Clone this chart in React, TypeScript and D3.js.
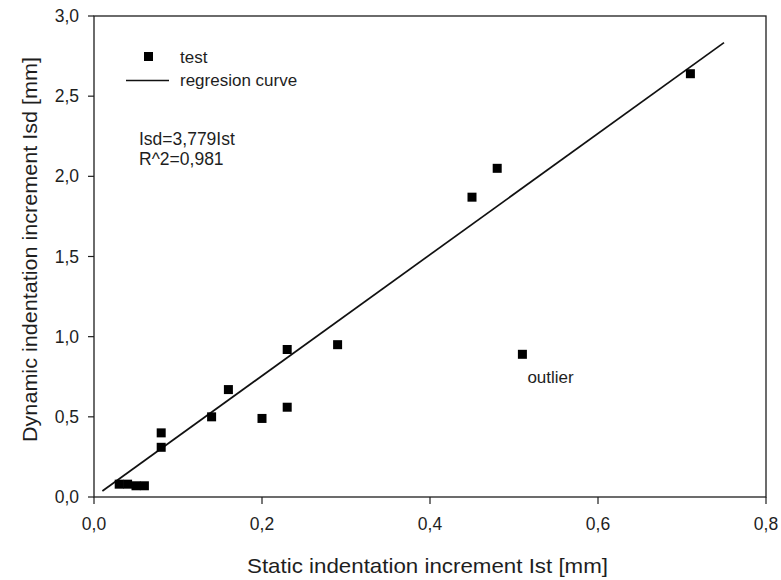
import React from "react";
import * as d3 from "d3";

// measured points (static vs dynamic indentation increment, mm)
const staticInc = [0.03, 0.04, 0.05, 0.06, 0.08, 0.08, 0.14, 0.16, 0.2, 0.23, 0.23, 0.29, 0.45, 0.48, 0.51, 0.71];
const dynamicInc = [0.08, 0.08, 0.07, 0.07, 0.31, 0.4, 0.5, 0.67, 0.49, 0.56, 0.92, 0.95, 1.87, 2.05, 0.89, 2.64];
const slope = 3.779;
const fitRange = [0.01, 0.75];
const xTicks = [0, 0.2, 0.4, 0.6, 0.8];
const yTicks = [0, 0.5, 1, 1.5, 2, 2.5, 3];
const outlier = [0.51, 0.89];

const W = 781;
const H = 580;
const margin = { top: 16, right: 15, bottom: 83, left: 94 };
const font = "'Liberation Sans', Arial, sans-serif";
const ink = "#1e1e1e";

const fmt = (v: number) => d3.format(".1f")(v).replace(".", ",");

export default function App() {
  const x = d3.scaleLinear().domain([0, 0.8]).range([margin.left, W - margin.right]);
  const y = d3.scaleLinear().domain([0, 3]).range([H - margin.bottom, margin.top]);
  const fit = d3.line<number>().x((d) => x(d)).y((d) => y(slope * d));
  const pts = staticInc.map((s, i) => [s, dynamicInc[i]]);
  const sq = 9;

  return (
    <svg width={W} height={H} style={{ position: "absolute", left: 0, top: 0, background: "#fff" }} fontFamily={font}>
      {/* frame */}
      <rect x={x(0)} y={y(3)} width={x(0.8) - x(0)} height={y(0) - y(3)} fill="none" stroke={ink} strokeWidth={1.3} />

      {xTicks.map((t) => (
        <g key={"x" + t}>
          <line x1={x(t)} x2={x(t)} y1={y(0)} y2={y(0) + 7} stroke={ink} strokeWidth={1.2} />
          <text x={x(t)} y={y(0) + 33} textAnchor="middle" fontSize={17.5} fill={ink}>{fmt(t)}</text>
        </g>
      ))}
      {yTicks.map((t) => (
        <g key={"y" + t}>
          <line x1={x(0) - 6} x2={x(0)} y1={y(t)} y2={y(t)} stroke={ink} strokeWidth={1.2} />
          <text x={x(0) - 15} y={y(t) + 6} textAnchor="end" fontSize={17.5} fill={ink}>{fmt(t)}</text>
        </g>
      ))}

      <path d={fit(fitRange) || ""} fill="none" stroke="#111" strokeWidth={1.7} />

      {pts.map((p, i) => (
        <rect key={i} x={x(p[0]) - sq / 2} y={y(p[1]) - sq / 2} width={sq} height={sq} fill="#000" />
      ))}

      <text x={x(outlier[0]) + 5} y={y(outlier[1]) + 29} fontSize={17} fill={ink}>outlier</text>

      {/* legend */}
      <rect x={144} y={52} width={9} height={9} fill="#000" />
      <text x={180} y={63} fontSize={17} fill={ink}>test</text>
      <line x1={126} x2={169} y1={80.5} y2={80.5} stroke="#111" strokeWidth={1.7} />
      <text x={180} y={86} fontSize={17} fill={ink}>regresion curve</text>

      <text x={139} y={145} fontSize={17.5} fill={ink}>Isd=3,779Ist</text>
      <text x={139} y={165} fontSize={17.5} fill={ink}>R^2=0,981</text>

      <text x={247} y={573} fontSize={21} fill={ink} textLength={361} lengthAdjust="spacingAndGlyphs">
        Static indentation increment Ist [mm]
      </text>
      <text
        transform={`translate(37,442) rotate(-90)`}
        fontSize={21}
        fill={ink}
        textLength={385}
        lengthAdjust="spacingAndGlyphs"
      >
        Dynamic indentation increment Isd [mm]
      </text>
    </svg>
  );
}
